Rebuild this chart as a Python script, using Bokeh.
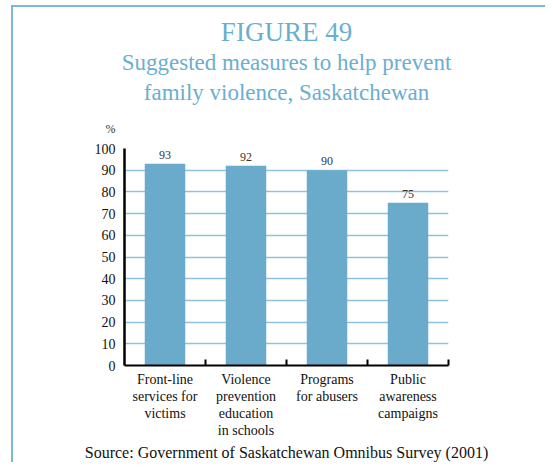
from bokeh.plotting import figure
from bokeh.models import Range1d, FixedTicker, LabelSet, ColumnDataSource, Title
from bokeh.embed import file_html
from bokeh.resources import INLINE

categories = ["Front-line\nservices for\nvictims", "Violence\nprevention\neducation\nin schools",
              "Programs\nfor abusers", "Public\nawareness\ncampaigns"]
values = [93, 92, 90, 75]
y_ticks = [0, 10, 20, 30, 40, 50, 60, 70, 80, 90, 100]

BAR = "#6aabcb"
TITLE = "#6aaed0"
GRID = "#8fc3db"
FRAME = "#7ab8d8"
SERIF = "Liberation Serif"

W, H = 545, 462
L, R, T, B = 124, W - 448, 148, H - 365

p = figure(width=W, height=H, output_backend="svg", toolbar_location=None,
           x_range=Range1d(0, len(values)), y_range=Range1d(0, 100),
           min_border_left=L, min_border_right=R, min_border_top=T, min_border_bottom=B)
p.outline_line_color = None
p.background_fill_color = "white"
p.border_fill_alpha = 0

xs = [i + 0.5 for i in range(len(values))]
src = ColumnDataSource(dict(x=xs, top=values, lab=[str(v) for v in values]))
p.vbar(x="x", top="top", width=0.5, bottom=0, source=src, fill_color=BAR, line_color=None)

p.add_layout(LabelSet(x="x", y="top", text="lab", source=src, text_align="center",
                      text_baseline="alphabetic", y_offset=5, text_font=SERIF,
                      text_font_size="12px", text_color="#333333"))

p.xgrid.grid_line_color = None
p.ygrid.ticker = FixedTicker(ticks=y_ticks)
p.ygrid.grid_line_color = GRID
p.ygrid.grid_line_width = 1.5

ya = p.yaxis[0]
ya.ticker = FixedTicker(ticks=y_ticks)
ya.major_tick_line_color = None
ya.minor_tick_line_color = None
ya.axis_line_width = 2.5
ya.axis_line_color = "black"
ya.major_label_text_font = SERIF
ya.major_label_text_font_size = "14px"
ya.major_label_text_color = "#111111"
ya.major_label_standoff = 3

xa = p.xaxis[0]
xa.ticker = FixedTicker(ticks=xs, minor_ticks=[1, 2, 3, 4])
xa.major_label_overrides = {x: c for x, c in zip(xs, categories)}
xa.major_tick_line_color = None
xa.minor_tick_line_color = "black"
xa.minor_tick_line_width = 2
xa.minor_tick_in = 6
xa.minor_tick_out = 0
xa.axis_line_width = 2
xa.axis_line_color = "black"
xa.major_label_text_font = SERIF
xa.major_label_text_font_size = "14px"
xa.major_label_text_color = "#111111"
xa.major_label_text_line_height = 1.15
xa.major_label_standoff = 0

def title(text, loc, size, color, standoff, offset=0, align="center"):
    p.add_layout(Title(text=text, align=align, offset=offset, standoff=standoff,
                       text_font=SERIF, text_font_size=size, text_color=color,
                       text_font_style="normal"), loc)

# above: innermost first
title("%", "above", "12px", "#333333", 26, offset=-19, align="left")
title("family violence, Saskatchewan", "above", "23px", TITLE, 3)
title("Suggested measures to help prevent", "above", "23px", TITLE, 3)
title("FIGURE 49", "above", "27px", TITLE, 0)
# below: source
title("Source: Government of Saskatchewan Omnibus Survey (2001)", "below", "16px", "#111111", 0)

p.styles = {
    "background-image": f"linear-gradient({FRAME},{FRAME}), linear-gradient({FRAME},{FRAME})",
    "background-size": "calc(100% - 11px) 2px, 2px calc(100% - 5px)",
    "background-position": "11px 5px, 11px 5px",
    "background-repeat": "no-repeat",
}

open("out.html", "w").write(file_html(p, INLINE))
